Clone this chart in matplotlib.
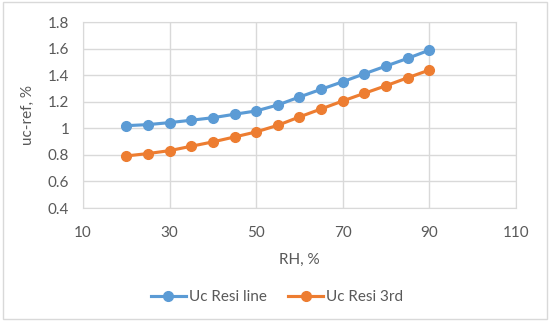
import matplotlib
matplotlib.use("Agg")
import matplotlib.pyplot as plt
from matplotlib.patches import Rectangle

rh = [20, 25, 30, 35, 40, 45, 50, 55, 60, 65, 70, 75, 80, 85, 90]
uc_line = [1.02, 1.028, 1.043, 1.061, 1.08, 1.106, 1.131, 1.176, 1.236,
           1.294, 1.351, 1.411, 1.469, 1.527, 1.589]
uc_3rd = [0.792, 0.81, 0.832, 0.865, 0.898, 0.935, 0.973, 1.023, 1.086,
          1.146, 1.206, 1.264, 1.321, 1.381, 1.439]
x_ticks = [10, 30, 50, 70, 90, 110]
y_ticks = [0.4, 0.6, 0.8, 1.0, 1.2, 1.4, 1.6, 1.8]
y_labels = ["0.4", "0.6", "0.8", "1", "1.2", "1.4", "1.6", "1.8"]

plt.rcParams["font.family"] = ["Lato", "DejaVu Sans"]
TXT = "#595959"
GRID = "#d9d9d9"

fig = plt.figure(figsize=(5.5, 3.25), dpi=100)
ax = fig.add_axes([0.151, 0.36, 0.787, 0.572])
fig.patches.append(Rectangle((0.006, 0.018), 0.988, 0.975, transform=fig.transFigure,
                             fill=False, edgecolor=GRID, lw=1.0))

ax.plot(rh, uc_line, color="#5b9bd5", lw=2.25, marker="o", ms=7, label="Uc Resi line", zorder=3)
ax.plot(rh, uc_3rd, color="#ed7d31", lw=2.25, marker="o", ms=7, label="Uc Resi 3rd", zorder=3)

ax.set_xlim(10, 110)
ax.set_ylim(0.4, 1.8)
ax.set_xticks(x_ticks)
ax.set_yticks(y_ticks)
ax.set_yticklabels(y_labels)
ax.grid(True, color=GRID, lw=1.0)
ax.set_axisbelow(True)
for s in ax.spines.values():
    s.set_color(GRID)
ax.tick_params(length=0, labelsize=11, colors=TXT)
ax.tick_params(axis="x", pad=13)
ax.tick_params(axis="y", pad=10)
ax.set_xlabel("RH, %", fontsize=11, color=TXT, labelpad=9)
ax.set_ylabel("uc-ref, %", fontsize=11, color=TXT, labelpad=9)

fig.legend(loc="center", bbox_to_anchor=(0.504, 0.086), ncol=2, frameon=False,
           fontsize=11, labelcolor=TXT, handlelength=2.3, columnspacing=1.4,
           handletextpad=0.2)

fig.savefig("out.png", dpi=100)
